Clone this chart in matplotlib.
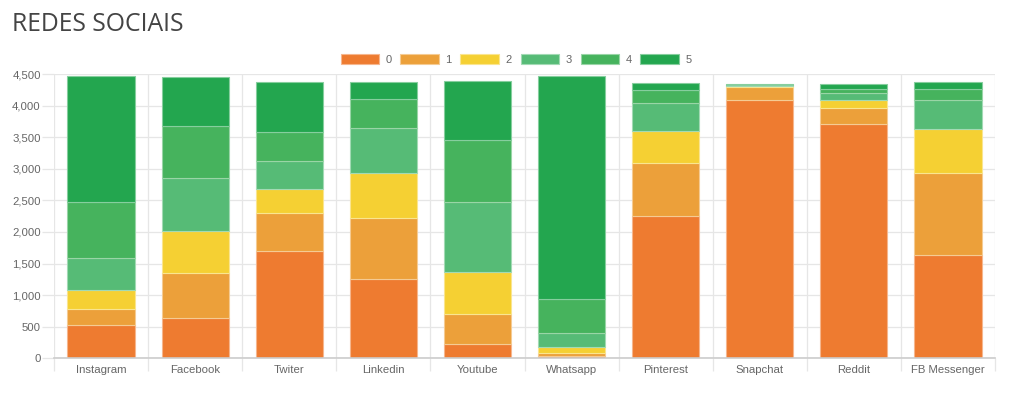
import matplotlib
matplotlib.use("Agg")
import matplotlib.pyplot as plt
import numpy as np

categories = ["Instagram", "Facebook", "Twiter", "Linkedin", "Youtube",
              "Whatsapp", "Pinterest", "Snapchat", "Reddit", "FB Messenger"]
series_labels = ["0", "1", "2", "3", "4", "5"]
s0 = [527, 633, 1698, 1255, 222, 35, 2257, 4088, 3713, 1635]
s1 = [259, 717, 602, 971, 479, 54, 834, 206, 253, 1292]
s2 = [290, 665, 379, 712, 660, 85, 501, 16, 127, 702]
s3 = [511, 838, 443, 706, 1113, 231, 448, 8, 105, 458]
s4 = [887, 823, 464, 459, 975, 534, 206, 8, 69, 174]
s5 = [1993, 781, 791, 264, 939, 3528, 116, 16, 68, 111]
series = [s0, s1, s2, s3, s4, s5]
colors = ["#EE7B30", "#ECA03A", "#F5D033", "#56BB76", "#46B35D", "#23A64F"]

def lighten(c, f=0.45):
    rgb = np.array(matplotlib.colors.to_rgb(c))
    return tuple(rgb + (1 - rgb) * f)

fig = plt.figure(figsize=(10.24, 3.96), dpi=100)
ax = fig.add_axes([54/1024, 1 - 358.3/396, (995-54)/1024, (358.3-74)/396])

x = np.arange(len(categories))
bottom = np.zeros(len(categories))
handles = []
for vals, col, lab in zip(series, colors, series_labels):
    h = ax.bar(x, vals, width=0.715, bottom=bottom, color=col,
               edgecolor=lighten(col), linewidth=0.8, label=lab, zorder=3)
    handles.append(h)
    bottom += np.array(vals)

ax.set_xlim(-0.5, len(categories) - 0.5)
ax.set_ylim(0, 4500)
ax.set_yticks(np.arange(0, 4501, 500))
ax.set_yticklabels([f"{v:,}" for v in range(0, 4501, 500)])
ax.set_xticks(x)
ax.set_xticklabels(categories)
ax.set_xticks(np.arange(-0.5, len(categories), 1), minor=True)

for s in ["top", "right", "left"]:
    ax.spines[s].set_visible(False)
ax.spines["bottom"].set_color("#cccccc")
ax.spines["bottom"].set_linewidth(1.2)
ax.spines["bottom"].set_zorder(4)

ax.grid(axis="y", color="#e6e6e6", linewidth=0.9, zorder=0)
ax.grid(axis="x", which="minor", color="#e6e6e6", linewidth=0.9, zorder=0)
ax.tick_params(axis="y", length=9, color="#e6e6e6", width=0.9, pad=0.5,
               labelsize=8.2, labelcolor="#666666")
ax.tick_params(axis="x", which="major", length=0, pad=5,
               labelsize=8.2, labelcolor="#666666")
ax.tick_params(axis="x", which="minor", length=9, color="#e6e6e6", width=0.9)
for lbl in ax.get_xticklabels() + ax.get_yticklabels():
    lbl.set_fontfamily("Liberation Sans")

fig.text(12/1024, 1 - 31/396, "REDES SOCIAIS", fontsize=17.8,
         family="Open Sans", weight=500, color="#444444",
         ha="left", va="baseline")

leg = fig.legend(handles=handles, labels=series_labels, loc="center",
                 bbox_to_anchor=(516/1024, 1 - 59.5/396), ncol=6, frameon=False,
                 prop={"family": "Liberation Sans", "size": 8},
                 handlelength=3.44, handleheight=1.0, handletextpad=0.6,
                 columnspacing=0.8, borderpad=0)
for t in leg.get_texts():
    t.set_color("#666666")

fig.savefig("out.png", dpi=100)
